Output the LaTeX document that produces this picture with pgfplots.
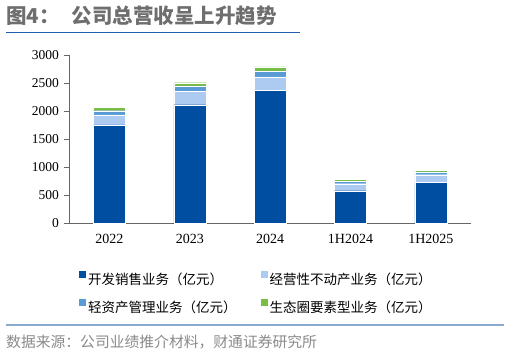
\documentclass[border=0pt]{standalone}
\usepackage{fontspec}
\setmainfont{Liberation Serif}
\newfontfamily\cjk{Noto Sans CJK SC}
\usepackage{pgfplots}
\pgfplotsset{compat=1.18}
\definecolor{c1}{HTML}{004EA2}
\definecolor{c2}{HTML}{ADCBF0}
\definecolor{c3}{HTML}{5B9BD5}
\definecolor{c4}{HTML}{77BE43}
\definecolor{tgray}{HTML}{6E6E6E}
\definecolor{sgray}{HTML}{8A8A8A}
\definecolor{tblue}{HTML}{1F5FAE}
\definecolor{lblue}{HTML}{8AAAD2}
\pgfplotsset{sq/.style={legend image code/.code={\fill[##1,draw=none] (0pt,1.5pt) rectangle (7pt,8.5pt);}}}
\begin{document}
\begin{tikzpicture}
\useasboundingbox (0pt,0pt) rectangle (510pt,-355pt);
\node[anchor=base west, inner sep=0, text=tgray, font=\cjk\bfseries\fontsize{20.5}{20.5}\selectfont] at (6pt,-23.7pt) {图4：\hspace{12pt}公司总营收呈上升趋势};
\draw[tblue, line width=1pt] (6pt,-32.5pt) -- (300pt,-32.5pt);
\begin{axis}[
  at={(69.3pt,-223.3pt)}, anchor=south west,
  width=401.7pt, height=168.3pt, scale only axis,
  xmin=-0.5, xmax=4.5, ymin=0, ymax=3000,
  ybar stacked, bar width=32pt,
  axis x line=bottom, axis y line=left,
  axis line style={-, draw=gray!80!black, line width=0.8pt},
  xtick={0,1,2,3,4},
  xticklabels={2022,2023,2024,1H2024,1H2025},
  x tick style={draw=none},
  extra x ticks={-0.5,0.5,1.5,2.5,3.5,4.5},
  extra x tick labels={},
  extra x tick style={tick style={draw=gray!80!black, line width=0.8pt}, major tick length=5pt, tick align=outside},
  ytick={0,500,1000,1500,2000,2500,3000},
  y tick style={draw=gray!80!black, line width=0.8pt},
  major tick length=5pt, tick align=outside,
  xticklabel style={font=\fontsize{14}{14}\selectfont, yshift=-2pt},
  yticklabel style={font=\fontsize{13.5}{13.5}\selectfont, xshift=-2pt},
  /pgf/number format/assume math mode=true,
  /pgf/number format/set thousands separator={},
  legend columns=2,
  legend cell align=left,
  legend style={at={(axis description cs:0.024,-0.28)}, anchor=north west, draw=none, fill=none, inner sep=0pt,
    font=\cjk\fontsize{13.5}{13.5}\selectfont, row sep=13.5pt,
    nodes={inner sep=0pt},
    /tikz/every odd column/.append style={column sep=2pt},
    /tikz/every even column/.append style={column sep=24pt}},
]
\addplot[fill=c1, draw=white, line width=0.3pt, sq] coordinates {(0,1753) (1,2115) (2,2365) (3,581) (4,736)};
\addplot[fill=c2, draw=white, line width=0.3pt, sq] coordinates {(0,178) (1,232) (2,244) (3,125) (4,130)};
\addplot[fill=c3, draw=white, line width=0.3pt, sq] coordinates {(0,76) (1,101) (2,107) (3,48) (4,49)};
\addplot[fill=c4, draw=white, line width=0.3pt, sq] coordinates {(0,61) (1,59) (2,71) (3,30) (4,30)};
\legend{开发销售业务（亿元）,经营性不动产业务（亿元）,轻资产管理业务（亿元）,生态圈要素型业务（亿元）}
\end{axis}
\draw[lblue, line width=1.5pt] (6pt,-325pt) -- (504pt,-325pt);
\node[anchor=base west, inner sep=0, text=sgray, font=\cjk\fontsize{14.8}{14.8}\selectfont] at (6pt,-347pt) {数据来源：公司业绩推介材料，财通证券研究所};
\end{tikzpicture}
\end{document}
